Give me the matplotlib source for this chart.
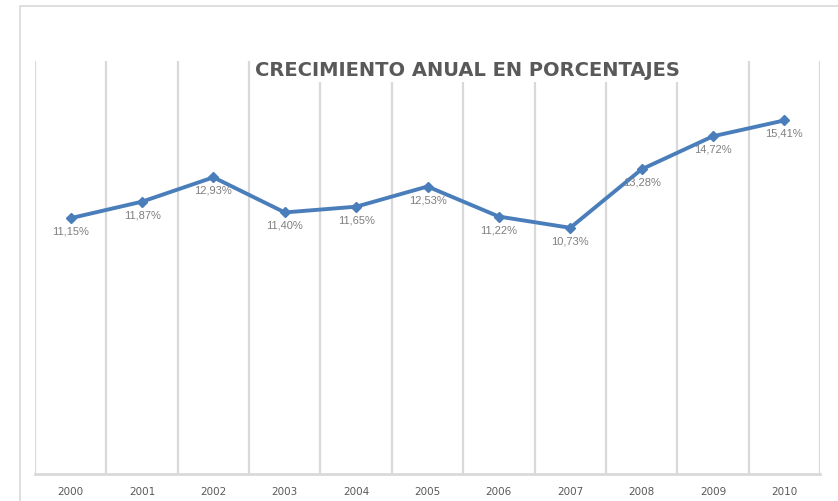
import matplotlib
matplotlib.use("Agg")
import matplotlib.pyplot as plt
from matplotlib.patches import Rectangle

years = ["2000", "2001", "2002", "2003", "2004", "2005", "2006", "2007", "2008", "2009", "2010"]
values = [11.15, 11.87, 12.93, 11.40, 11.65, 12.53, 11.22, 10.73, 13.28, 14.72, 15.41]
labels = ["11,15%", "11,87%", "12,93%", "11,40%", "11,65%", "12,53%", "11,22%", "10,73%", "13,28%", "14,72%", "15,41%"]
title = "CRECIMIENTO ANUAL EN PORCENTAJES"

W, H = 838, 502
fig = plt.figure(figsize=(W / 100, H / 100), dpi=100)
fig.patch.set_facecolor("white")

# outer frame of the chart (cropped on right/bottom)
fig.add_artist(Rectangle((19.5 / W, -0.1), 1.2, (H - 6.5) / H + 0.1, transform=fig.transFigure,
                         fill=False, edgecolor="#d9d9d9", linewidth=1.2))

ax = fig.add_axes([35 / W, (H - 475) / H, (820 - 35) / W, (475 - 62) / H])
n = len(years)
x = list(range(n))
ax.set_xlim(-0.5, n - 0.5)
ax.set_ylim(0, 18)

# vertical gridlines at category boundaries
for b in range(n + 1):
    ax.axvline(b - 0.5, color="#d9d9d9", linewidth=1.6, zorder=1)

ax.plot(x, values, color="#4a7ebb", linewidth=2.8, marker="D", markersize=5.5,
        markerfacecolor="#4a7ebb", markeredgecolor="#4a7ebb", zorder=3, solid_capstyle="round")

for xi, v, lab in zip(x, values, labels):
    ax.annotate(lab, (xi, v), xytext=(0, -9), textcoords="offset points", ha="center", va="center",
                fontsize=8, color="#7f7f7f", family="Liberation Sans", zorder=4)

for s in ["top", "right", "left"]:
    ax.spines[s].set_visible(False)
ax.spines["bottom"].set_color("#d9d9d9")
ax.spines["bottom"].set_linewidth(2)
ax.set_yticks([])
ax.set_xticks(x)
ax.set_xticklabels(years, fontsize=7.5, color="#595959", family="DejaVu Sans")
ax.tick_params(axis="x", length=0, pad=9)

fig.text(467 / W, (H - 71) / H, title, ha="center", va="center", fontsize=14,
         fontweight="bold", color="#595959", family="DejaVu Sans", zorder=5,
         bbox=dict(facecolor="white", edgecolor="none", pad=2))

fig.savefig("out.png", dpi=100, facecolor="white")
